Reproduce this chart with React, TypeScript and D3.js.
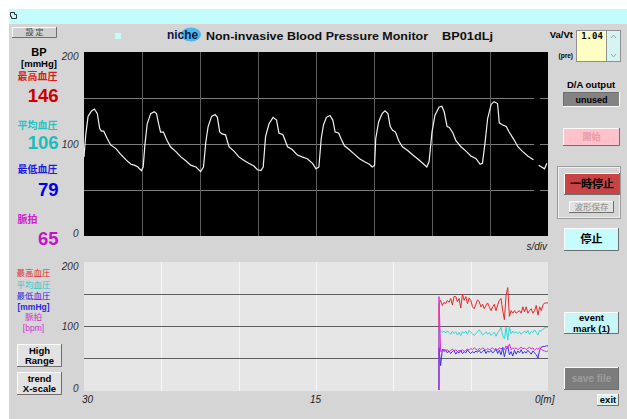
import React from "react";
import * as d3 from "d3";

const W = 627;
const H = 419;

// pressure waveform on the sweep: [seconds, mmHg]; null = erase bar gap
const pressureTrace: [number, number | null][] = [
  [0, 86], [0.03, 110], [0.07, 130], [0.13, 136], [0.18, 138], [0.23, 133], [0.27, 117], [0.3, 114],
  [0.34, 114], [0.4, 106], [0.46, 99], [0.55, 95], [0.63, 89], [0.72, 83], [0.81, 78], [0.87, 77],
  [0.93, 75], [0.99, 71], [1.02, 75], [1.05, 99], [1.09, 122], [1.15, 133], [1.21, 135], [1.25, 133],
  [1.29, 121], [1.32, 113], [1.37, 113], [1.43, 104], [1.49, 97], [1.58, 92], [1.67, 86], [1.75, 82],
  [1.84, 77], [1.93, 75], [2.01, 70], [2.06, 75], [2.1, 102], [2.14, 119], [2.2, 130], [2.26, 132],
  [2.3, 129], [2.34, 113], [2.38, 111], [2.44, 110], [2.5, 97], [2.59, 92], [2.67, 86], [2.76, 82],
  [2.84, 79], [2.93, 76], [2.99, 72], [3.05, 71], [3.09, 75], [3.13, 108], [3.19, 122], [3.26, 129],
  [3.32, 126], [3.36, 112], [3.43, 110], [3.51, 97], [3.59, 94], [3.68, 88], [3.76, 86], [3.85, 84],
  [3.94, 79], [4.0, 73], [4.05, 75], [4.09, 106], [4.13, 121], [4.18, 129], [4.24, 131], [4.29, 126],
  [4.33, 113], [4.39, 112], [4.43, 106], [4.49, 98], [4.57, 94], [4.66, 89], [4.75, 84], [4.83, 81],
  [4.92, 78], [4.97, 75], [5.01, 77], [5.03, 106], [5.08, 124], [5.14, 133], [5.19, 136], [5.24, 133],
  [5.28, 119], [5.32, 115], [5.37, 113], [5.43, 103], [5.49, 97], [5.58, 93], [5.67, 88], [5.75, 84],
  [5.84, 79], [5.91, 75], [5.95, 81], [6.0, 113], [6.05, 131], [6.12, 140], [6.17, 141], [6.21, 135],
  [6.26, 119], [6.3, 118], [6.36, 112], [6.41, 104], [6.5, 97], [6.59, 92], [6.67, 87], [6.76, 84],
  [6.83, 78], [6.87, 79], [6.91, 99], [6.96, 128], [7.02, 143], [7.07, 146], [7.13, 144], [7.16, 123],
  [7.21, 121], [7.28, 119], [7.33, 113], [7.42, 104], [7.48, 97], [7.56, 92], [7.65, 87], [7.75, 83],
  [7.8, null], [7.84, 77], [7.94, 73], [7.98, 79],
];
const eraseBar = [7.76, 7.86]; // seconds

// current readings
const readLabels = ["最高血圧", "平均血圧", "最低血圧", "脈拍"];
const readValues = [146, 106, 79, 65];
const readColors = ["#e01818", "#22c4c4", "#1c1ce8", "#cc22cc"];
const valueColors = ["#cc0000", "#1cbcbc", "#0000ee", "#c414c4"];

// trend, minutes ago of first sample; samples run evenly to now
const trendStart = 7.05;
const trendSys = [
  135, 140, 132, 137, 135, 140, 137, 143, 133, 146, 146, 138, 143, 128, 150, 140, 146, 135, 144, 140,
  130, 127, 134, 141, 138, 130, 134, 127, 132, 136, 130, 124, 130, 134, 124, 133, 140, 143, 124, 110,
  148, 160, 115, 124, 120, 124, 120, 122, 124, 120, 130, 122, 130, 120, 124, 127, 120, 124, 132, 117,
  130, 124, 133, 136, 136, 136,
];
const trendMean = [
  95, 92, 90, 92, 89, 92, 90, 87, 92, 88, 91, 86, 90, 85, 91, 89, 92, 87, 93, 90,
  88, 85, 88, 91, 94, 90, 86, 88, 91, 87, 90, 85, 88, 90, 84, 90, 93, 98, 85, 80,
  98, 78, 99, 88, 92, 89, 91, 88, 91, 87, 90, 92, 89, 93, 87, 91, 90, 94, 90, 86,
  93, 92, 95, 97, 98, 98,
];
const trendDia = [
  66, 38, 64, 60, 63, 58, 61, 57, 60, 62, 56, 60, 58, 62, 57, 60, 58, 63, 59, 57,
  60, 58, 61, 59, 62, 58, 60, 63, 57, 61, 59, 62, 58, 60, 64, 57, 62, 55, 66, 52,
  63, 68, 55, 60, 53, 62, 56, 61, 58, 63, 57, 60, 58, 62, 59, 56, 61, 58, 55, 50,
  62, 67, 68, 68, 69, 69,
];
const trendPulse = [
  146, 60, 62, 64, 61, 63, 60, 62, 64, 61, 63, 60, 62, 61, 63, 60, 62, 64, 62, 65,
  63, 66, 64, 62, 65, 63, 66, 64, 62, 65, 63, 64, 66, 63, 65, 62, 66, 64, 67, 63,
  69, 65, 72, 63, 66, 64, 66, 63, 65, 67, 64, 66, 63, 65, 67, 64, 66, 62, 65, 64,
  66, 63, 62, 61, 60, 61,
];
const trendColors = ["#e82828", "#30d8d8", "#3434f0", "#d830e0"];
const legendLabels = ["最高血圧", "平均血圧", "最低血圧", "[mmHg]", "脈拍", "[bpm]"];
const legendColors = ["#e02828", "#28c8c8", "#2828e0", "#2828e0", "#d030d0", "#d030d0"];

const yTicks = [0, 100, 200];
const waveGridY = [50, 100, 150];
const waveGridX = [1, 2, 3, 4, 5, 6, 7];
const trendGridY = [50, 100, 150];
const trendGridX = [25, 20, 15, 10, 5];
const trendXTicks = ["30", "15", "0[m]"];

const BG = "#d5d5d5";
const LAT = "'Liberation Sans', Arial, sans-serif";
const JP = "'Noto Sans CJK JP', sans-serif";

function Btn(p: {
  x: number; y: number; w: number; h: number; fill: string; lines: string[];
  color?: string; size?: number; font?: string; weight?: string; sunk?: boolean;
}) {
  const { x, y, w, h, fill, lines } = p;
  const size = p.size ?? 10;
  const lh = size * 1.1;
  const hi = "#fbfbfb";
  const lo = "#6e6e6e";
  return (
    <g>
      <rect x={x} y={y} width={w} height={h} fill={fill} />
      <polyline points={`${x + 0.5},${y + h} ${x + 0.5},${y + 0.5} ${x + w},${y + 0.5}`} fill="none" stroke={p.sunk ? lo : hi} />
      <polyline points={`${x + w - 0.5},${y} ${x + w - 0.5},${y + h - 0.5} ${x},${y + h - 0.5}`} fill="none" stroke={p.sunk ? hi : lo} />
      {lines.map((l, i) => (
        <text
          key={i}
          x={x + w / 2}
          y={y + h / 2 + (i - (lines.length - 1) / 2) * lh + size * 0.36}
          textAnchor="middle"
          fontSize={size}
          fontWeight={p.weight ?? "bold"}
          fontFamily={p.font ?? LAT}
          fill={p.color ?? "#000"}
        >
          {l}
        </text>
      ))}
    </g>
  );
}

export default function App() {
  const waveX = d3.scaleLinear().domain([0, 8]).range([84, 548]);
  const waveY = d3.scaleLinear().domain([0, 200]).range([236, 52]);
  const trendX = d3.scaleLinear().domain([30, 0]).range([84, 548]);
  const trendY = d3.scaleLinear().domain([0, 200]).range([390, 262]);

  const waveLine = d3
    .line<[number, number | null]>()
    .defined((d) => d[1] !== null)
    .x((d) => waveX(d[0]))
    .y((d) => waveY(d[1] as number));

  const trendLine = d3
    .line<[number, number]>()
    .x((d) => trendX(d[0]))
    .y((d) => trendY(d[1]));

  const toPts = (vals: number[]): [number, number][] => {
    const step = trendStart / (vals.length - 1);
    return [[trendStart, 0] as [number, number]].concat(
      vals.map((v, i) => [trendStart - i * step, v] as [number, number])
    );
  };
  const trendSeries = [trendSys, trendMean, trendDia, trendPulse];

  const tickLabelY = (y: number, top: number, bottom: number) =>
    Math.min(Math.max(y + 4, top + 8), bottom + 1);

  return (
    <svg width={W} height={H} style={{ position: "absolute", left: 0, top: 0 }}>
      <rect width={W} height={H} fill="#ffffff" />
      <rect x={9} y={9} width={W - 9} height={H - 9} fill={BG} />
      {/* title bar */}
      <rect x={9} y={9} width={W - 9} height={15} fill="#c2fcfc" />
      <path d="M10.5,12.5 h4 v2 h2 v4 h-5 v-2 h-1 z" fill="none" stroke="#303030" />

      {/* top row */}
      <Btn x={12} y={27} w={45} h={11} fill="#d0d0d0" lines={["設 定"]} size={8} font={JP} weight="normal" color="#404040" />
      <rect x={115} y={33} width={6} height={6} fill="#c8fafa" />
      <ellipse cx={191} cy={34.5} rx={10} ry={7} fill="#4cb8e8" />
      <text x={167} y={38.5} fontSize={12} fontWeight="bold" fontFamily={LAT} fill="#0c1840"
        textLength={31} lengthAdjust="spacingAndGlyphs">
        niche
      </text>
      <text x={206} y={40} fontSize={11.5} fontWeight="bold" fontFamily={LAT} fill="#101010"
        textLength={222} lengthAdjust="spacingAndGlyphs">
        Non-invasive Blood Pressure Monitor
      </text>
      <text x={442} y={40} fontSize={11.5} fontWeight="bold" fontFamily={LAT} fill="#101010"
        textLength={51} lengthAdjust="spacingAndGlyphs">
        BP01dLj
      </text>

      {/* left readings */}
      <text x={39} y={56} textAnchor="middle" fontSize={11} fontWeight="bold" fontFamily={LAT}>BP</text>
      <text x={39} y={66.5} textAnchor="middle" fontSize={9.5} fontWeight="bold" fontFamily={LAT}>[mmHg]</text>
      {readLabels.map((l, i) => {
        const labelY = [79.5, 129, 173, 223][i];
        const valY = [102, 148.5, 196, 245][i];
        return (
          <g key={l}>
            <text x={17.5} y={labelY} fontSize={10} fontWeight="bold" fontFamily={JP} fill={readColors[i]}>{l}</text>
            <text x={58.5} y={valY} textAnchor="end" fontSize={18.5} fontWeight="bold" fontFamily={LAT} fill={valueColors[i]}>
              {readValues[i]}
            </text>
          </g>
        );
      })}

      {/* waveform panel */}
      <rect x={84} y={52} width={464} height={184} fill="#000" />
      {waveGridY.map((v) => (
        <line key={v} x1={84} x2={548} y1={waveY(v) + 0.5} y2={waveY(v) + 0.5} stroke="#7c7c7c" />
      ))}
      {waveGridX.map((t) => (
        <line key={t} x1={Math.round(waveX(t)) + 0.5} x2={Math.round(waveX(t)) + 0.5} y1={52} y2={236} stroke="#5c5c5c" />
      ))}
      <rect x={waveX(eraseBar[0])} y={52} width={waveX(eraseBar[1]) - waveX(eraseBar[0])} height={184} fill="#000" />
      <path d={waveLine(pressureTrace) ?? ""} fill="none" stroke="#f2f2f2" strokeWidth={1.2} />
      {yTicks.map((v) => (
        <text key={v} x={78.5} y={tickLabelY(waveY(v), 52, 236)} textAnchor="end" fontSize={10} fontStyle="italic" fontFamily={LAT} fill="#303030">
          {v}
        </text>
      ))}
      <text x={547} y={250} textAnchor="end" fontSize={10} fontStyle="italic" fontFamily={LAT} fill="#202020">s/div</text>

      {/* trend panel */}
      <rect x={84} y={262} width={464} height={129} fill="#e6e6e6" />
      {trendGridX.map((m) => (
        <line key={m} x1={Math.round(trendX(m)) + 0.5} x2={Math.round(trendX(m)) + 0.5} y1={262} y2={391} stroke="#f6f6f6" />
      ))}
      {trendGridY.map((v) => (
        <line key={v} x1={84} x2={548} y1={Math.round(trendY(v)) + 0.5} y2={Math.round(trendY(v)) + 0.5} stroke="#5e5e5e" />
      ))}
      {trendSeries.map((s, i) => (
        <path key={i} d={trendLine(toPts(s)) ?? ""} fill="none" stroke={trendColors[i]} strokeWidth={1} />
      ))}
      {yTicks.map((v) => (
        <text key={v} x={78.5} y={tickLabelY(trendY(v), 262, 391)} textAnchor="end" fontSize={10} fontStyle="italic" fontFamily={LAT} fill="#303030">
          {v}
        </text>
      ))}
      {trendXTicks.map((t, i) => (
        <text key={t} x={[82, 310, 535][i]} y={403} fontSize={10} fontStyle="italic" fontFamily={LAT} fill="#202020">
          {t}
        </text>
      ))}

      {/* trend legend */}
      {legendLabels.map((l, i) => (
        <text key={l} x={33.5} y={[275.5, 287.5, 298.5, 309.5, 320, 330.5][i]} textAnchor="middle" fontSize={8.5}
          fontFamily={i === 3 || i === 5 ? LAT : JP} fontWeight={i === 3 ? "bold" : "normal"} fill={legendColors[i]}>
          {l}
        </text>
      ))}
      <Btn x={17} y={344} w={45} h={23} fill="#e2e2e2" lines={["High", "Range"]} size={9.5} />
      <Btn x={17} y={372} w={45} h={23} fill="#e2e2e2" lines={["trend", "X-scale"]} size={9.5} />

      {/* right controls */}
      <text x={573} y={38} textAnchor="end" fontSize={9.5} fontWeight="bold" fontFamily={LAT}>Va/Vt</text>
      <text x={573} y={58} textAnchor="end" fontSize={6.5} fontWeight="bold" fontFamily={LAT}>(pre)</text>
      <rect x={576.5} y={30.5} width={30} height={31} fill="#ffffc4" stroke="#909090" />
      <rect x={606.5} y={30.5} width={14} height={31} fill="#d6f4f4" stroke="#909090" />
      <text x={592} y={38.5} textAnchor="middle" fontSize={9} fontWeight="bold" fontFamily="'DejaVu Sans Mono', monospace">1.04</text>
      <path d="M611,38 l2.5,-3 l2.5,3" fill="none" stroke="#a0a0a0" />
      <path d="M611,54 l2.5,3 l2.5,-3" fill="none" stroke="#a0a0a0" />
      <text x={591} y={88} textAnchor="middle" fontSize={9.5} fontWeight="bold" fontFamily={LAT}>D/A output</text>
      <Btn x={563} y={92} w={57} h={15} fill="#838383" lines={["unused"]} size={9} sunk />
      <Btn x={563} y={128} w={57} h={18} fill="#ffc2ca" lines={["開始"]} size={9} font={JP} color="#e89aa6" />
      <rect x={557.5} y={166.5} width={63} height={52} fill="none" stroke="#9a9a9a" />
      <rect x={558.5} y={167.5} width={61} height={50} fill="none" stroke="#f0f0f0" />
      <Btn x={564} y={173} w={56} h={22} fill="#c84444" lines={["一時停止"]} size={11} font={JP} />
      <Btn x={569} y={201} w={45} h={12} fill="#e2e2e2" lines={["波形保存"]} size={8.5} font={JP} weight="normal" color="#8a8a8a" />
      <Btn x={564} y={228} w={55} h={23} fill="#c6fcfc" lines={["停止"]} size={11} font={JP} />
      <Btn x={564} y={312} w={55} h={22} fill="#c8f6f6" lines={["event", "mark (1)"]} size={9.5} />
      <Btn x={564} y={367} w={55} h={23} fill="#7c7c7c" lines={["save file"]} size={10} color="#9c9c9c" />
      <Btn x={597} y={394} w={22} h={12} fill="#dcf2f2" lines={["exit"]} size={9.5} />
    </svg>
  );
}
